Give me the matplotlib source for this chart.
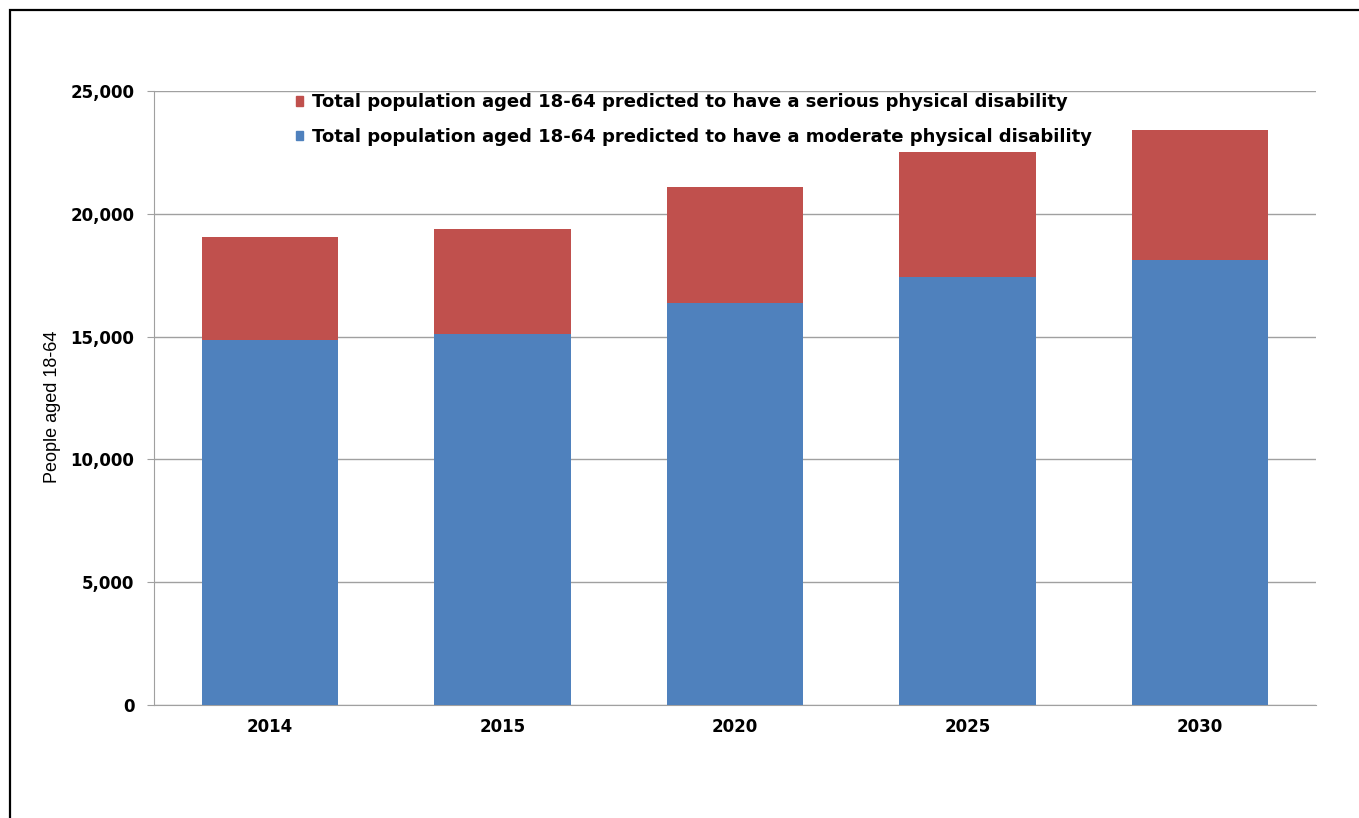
import matplotlib
matplotlib.use("Agg")
import matplotlib.pyplot as plt
from matplotlib.patches import Rectangle, Patch
from matplotlib.ticker import FuncFormatter

years = ["2014", "2015", "2020", "2025", "2030"]
moderate = [14850, 15090, 16350, 17440, 18130]
serious = [4210, 4300, 4760, 5080, 5270]
label_serious = "Total population aged 18-64 predicted to have a serious physical disability"
label_moderate = "Total population aged 18-64 predicted to have a moderate physical disability"
blue = "#4F81BD"
red = "#C0504D"

plt.rcParams['font.family'] = ['DejaVu Sans']

W, H = 1359, 818
fig = plt.figure(figsize=(W / 100, H / 100), dpi=100)
# outer frame
fig.patches.append(Rectangle((10 / W, -0.01), 1.02, 1 - 10 / H + 0.01, transform=fig.transFigure,
                             fill=False, edgecolor="black", linewidth=1.6))

ax = fig.add_axes([154 / W, 1 - 705 / H, (1316 - 154) / W, (705 - 91) / H])
x = list(range(len(years)))
ax.bar(x, moderate, width=0.587, color=blue, label=label_moderate, zorder=3)
ax.bar(x, serious, width=0.587, bottom=moderate, color=red, label=label_serious, zorder=3)

ax.set_xlim(-0.5, len(years) - 0.5)
ax.set_ylim(0, 25000)
ax.set_yticks(range(0, 25001, 5000))
ax.yaxis.set_major_formatter(FuncFormatter(lambda v, p: f"{int(v):,}"))
ax.set_xticks(x)
ax.set_xticklabels(years)
ax.grid(axis="y", color="#A0A0A0", linewidth=1, zorder=0)
for s in ["top", "right"]:
    ax.spines[s].set_visible(False)
ax.spines["left"].set_color("#A0A0A0")
ax.spines["bottom"].set_color("#A0A0A0")
ax.tick_params(axis="y", length=5, color="#A0A0A0", labelsize=12, pad=9)
ax.tick_params(axis="x", length=0, labelsize=12, pad=9)
for lab in ax.get_xticklabels() + ax.get_yticklabels():
    lab.set_fontweight("bold")
ax.set_ylabel("People aged 18-64", fontsize=13,
              fontfamily=["Liberation Sans", "DejaVu Sans"])
ax.yaxis.set_label_coords(-0.080, 0.486)

handles = [Patch(color=red), Patch(color=blue)]
leg = ax.legend(handles, [label_serious, label_moderate], loc="upper left",
                bbox_to_anchor=(0.122, 0.996), frameon=False, borderpad=0, borderaxespad=0,
                handlelength=0.42, handleheight=0.42,
                handletextpad=0.5, labelspacing=0.93,
                prop={"weight": "bold", "size": 13})

fig.savefig("out.png", dpi=100)
